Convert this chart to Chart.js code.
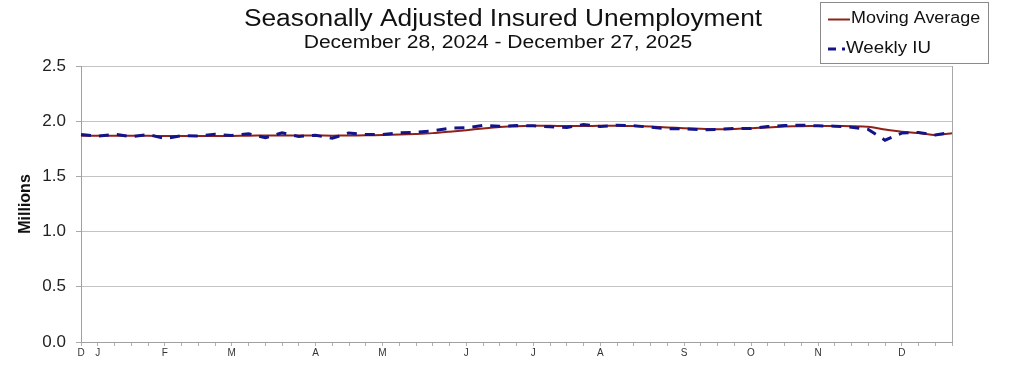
<!DOCTYPE html>
<html>
<head>
<meta charset="utf-8">
<script src="https://cdn.jsdelivr.net/npm/chart.js@4.4.1/dist/chart.umd.min.js"></script>
<style>
  html, body { margin: 0; padding: 0; background: #fff; }
</style>
</head>
<body>
<canvas id="iuChart" width="1009" height="390"></canvas>
<script>
const chartTitle = "Seasonally Adjusted Insured Unemployment";
const chartSubtitle = "December 28, 2024 - December 27, 2025";
const yAxisTitle = "Millions";

// one label per week, month letter on the first week of each month
const weekLabels = ["D","J","","","","F","","","","M","","","","","A","","","","M","","","","","J","","","","J","","","","A","","","","","S","","","","O","","","","N","","","","","D","","",""];

// weekly insured unemployment, millions
const weeklyIU = [1.879, 1.864, 1.882, 1.860, 1.880, 1.843, 1.868, 1.866, 1.882, 1.870, 1.886, 1.850, 1.894,
  1.862, 1.873, 1.846, 1.894, 1.879, 1.879, 1.894, 1.900, 1.912, 1.937, 1.940, 1.962, 1.955,
  1.960, 1.958, 1.949, 1.943, 1.970, 1.952, 1.964, 1.958, 1.946, 1.932, 1.932, 1.922, 1.925, 1.934,
  1.934, 1.952, 1.961, 1.964, 1.958, 1.955, 1.946, 1.925, 1.828, 1.892, 1.898, 1.876, 1.900];

// 4-week moving average, millions
const movingAvg = [1.868, 1.868, 1.869, 1.869, 1.868, 1.866, 1.865, 1.865, 1.866, 1.867, 1.869, 1.870, 1.871,
  1.871, 1.870, 1.869, 1.870, 1.872, 1.875, 1.879, 1.884, 1.892, 1.905, 1.919, 1.934, 1.947,
  1.955, 1.958, 1.958, 1.957, 1.957, 1.958, 1.958, 1.956, 1.951, 1.944, 1.937, 1.931, 1.928, 1.930,
  1.936, 1.944, 1.951, 1.955, 1.957, 1.957, 1.955, 1.950, 1.925, 1.905, 1.893, 1.876, 1.890];

const fontFamily = "'Liberation Sans', Arial, sans-serif";

// text in the source is a bit wider than plain Arial, so stretch it sideways
function wideText(c, text, x, y, sx) {
  c.save();
  c.translate(x, y);
  c.scale(sx, 1);
  c.fillText(text, 0, 0);
  c.restore();
}

// titles drawn above the plot
const titleText = {
  id: "titleText",
  afterDraw(chart) {
    const c = chart.ctx;
    c.save();
    c.fillStyle = "#111";
    c.textAlign = "center";
    c.textBaseline = "middle";
    c.font = "23px " + fontFamily;
    wideText(c, chartTitle, 503, 20, 1.145);
    c.font = "18px " + fontFamily;
    wideText(c, chartSubtitle, 498, 43, 1.17);
    c.restore();
  }
};

// boxed legend in the top right corner
const legendBox = {
  id: "legendBox",
  afterDraw(chart) {
    const c = chart.ctx;
    const sets = chart.data.datasets;
    c.save();
    c.fillStyle = "#fff";
    c.fillRect(821, 3, 167, 60);
    c.strokeStyle = "#8a8a8a";
    c.lineWidth = 1;
    c.strokeRect(820.5, 2.5, 168, 61);
    c.font = "16px " + fontFamily;
    c.textBaseline = "middle";
    c.fillStyle = "#111";
    // Moving Average
    c.strokeStyle = sets[1].borderColor;
    c.lineWidth = 2;
    c.beginPath(); c.moveTo(828, 19.5); c.lineTo(850, 19.5); c.stroke();
    wideText(c, sets[1].label, 851, 19, 1.12);
    // Weekly IU
    c.strokeStyle = sets[0].borderColor;
    c.lineWidth = 3;
    c.setLineDash([8, 6]);
    c.beginPath(); c.moveTo(828, 49); c.lineTo(845, 49); c.stroke();
    c.setLineDash([]);
    wideText(c, sets[0].label, 846, 49, 1.17);
    c.restore();
  }
};

const ctx = document.getElementById("iuChart").getContext("2d");
const iuChart = new Chart(ctx, {
  type: "line",
  data: {
    labels: weekLabels,
    datasets: [
      {
        label: "Weekly IU",
        data: weeklyIU,
        borderColor: "#14148a",
        borderWidth: 3,
        borderDash: [10, 8],
        pointRadius: 0,
        fill: false,
        tension: 0,
        order: 0,
      },
      {
        label: "Moving Average",
        data: movingAvg,
        borderColor: "#8e2218",
        borderWidth: 2,
        pointRadius: 0,
        fill: false,
        tension: 0.2,
        order: 1,
      },
    ],
  },
  options: {
    responsive: false,
    animation: false,
    layout: { padding: { top: 66, right: 57, bottom: 0, left: 0 } },
    plugins: {
      legend: { display: false },
      title: { display: false },
      tooltip: { enabled: false },
    },
    scales: {
      x: {
        offset: false,
        afterFit(scale) { scale.height = 48; },
        grid: {
          drawOnChartArea: true,
          color: (c) => (c.index === weekLabels.length - 1 ? "#a8a8a8" : "rgba(0,0,0,0)"),
          tickColor: "#b0b0b0",
          tickLength: 4,
        },
        border: { color: "#a0a0a0", width: 1 },
        ticks: {
          autoSkip: false,
          maxRotation: 0,
          padding: 1,
          color: "#333",
          font: { family: fontFamily, size: 10 },
        },
      },
      y: {
        min: 0,
        max: 2.5,
        afterFit(scale) { scale.width = 81; },
        grid: {
          color: "#c4c4c4",
          tickColor: "#a8a8a8",
          tickLength: 5,
        },
        border: { color: "#a0a0a0", width: 1 },
        ticks: {
          stepSize: 0.5,
          padding: 10,
          color: "#222",
          font: { family: fontFamily, size: 17 },
          callback: (v) => Number(v).toFixed(1),
        },
        title: {
          display: true,
          text: yAxisTitle,
          color: "#111",
          font: { family: fontFamily, size: 16, weight: "bold" },
          padding: { top: 16, bottom: 0 },
        },
      },
    },
  },
  plugins: [titleText, legendBox],
});
</script>
</body>
</html>
